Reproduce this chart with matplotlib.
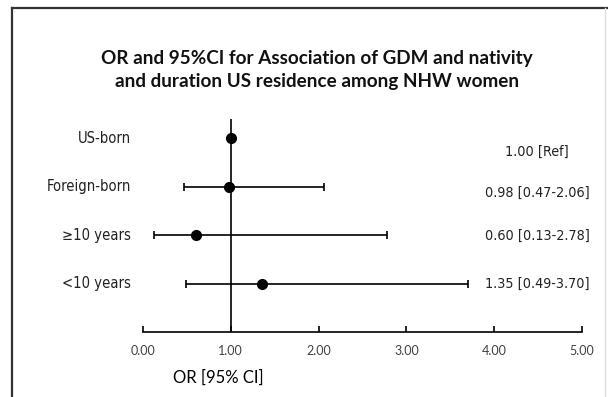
import matplotlib.pyplot as plt
from matplotlib.lines import Line2D

# data
groups = ["US-born", "Foreign-born", "\u226510 years", "<10 years"]
odds = [1.00, 0.98, 0.60, 1.35]
ci_low = [1.00, 0.47, 0.13, 0.49]
ci_high = [1.00, 2.06, 2.78, 3.70]
notes = ["1.00 [Ref]", "0.98 [0.47-2.06]", "0.60 [0.13-2.78]", "1.35 [0.49-3.70]"]
xticks = [0, 1, 2, 3, 4, 5]

narrow = dict(family=["DejaVu Sans"], fontstretch="condensed")
calib = ["Lato", "DejaVu Sans"]

fig = plt.figure(figsize=(6.08, 3.97), dpi=100)
ax = fig.add_axes([0.2352, 0.1625, 0.722, 0.5375])

ypos = list(range(len(groups), 0, -1))
note_shift = [-0.27, -0.12, 0.0, 0.0]

ax.axvline(1, color="black", lw=1.2, zorder=1)

for y, o, lo, hi, lab, note, dy in zip(ypos, odds, ci_low, ci_high, groups, notes, note_shift):
    if hi > lo:
        ax.errorbar(o, y, xerr=[[o - lo], [hi - o]], fmt="none", ecolor="black",
                    elinewidth=1.2, capsize=3, capthick=1.2, zorder=2)
    ax.plot(o, y, "o", color="black", markersize=7, zorder=3)
    ax.text(-0.14, y, lab, ha="right", va="center", fontsize=10.6, color="#222222", **narrow)
    ax.text(4.49, y + dy, note, ha="center", va="center", fontsize=10.3, color="#222222", **narrow)

ax.set_xlim(0, 5)
ax.set_ylim(0, 4.4)
ax.set_xticks(xticks)
ax.set_xticklabels([f"{t:.2f}" for t in xticks], family=calib, fontsize=9, color="#404040")
ax.tick_params(axis="x", direction="in", length=4, width=1.2, pad=9)
ax.set_yticks([])
for s in ["left", "right", "top"]:
    ax.spines[s].set_visible(False)
ax.spines["bottom"].set_linewidth(1.2)

fig.text(0.359, 1 - 378 / 397, "OR [95% CI]", ha="center", va="center",
         fontsize=12, family=calib)

fig.text(0.521, 1 - 70 / 397,
         "OR and 95%CI for Association of GDM and nativity\nand duration US residence among NHW women",
         ha="center", va="center", fontsize=13.6, fontweight="bold", family=calib,
         linespacing=1.45, color="#111111")

# frame around the chart
fig.add_artist(Line2D([11.5 / 608, 11.5 / 608], [0, 1 - 8 / 397], color="#333333", lw=1.6))
fig.add_artist(Line2D([11.5 / 608, 1], [1 - 8 / 397, 1 - 8 / 397], color="#333333", lw=1.6))
fig.add_artist(Line2D([605 / 608, 605 / 608], [0, 1 - 8 / 397], color="#dddddd", lw=1))

fig.savefig("out.png", dpi=100)
